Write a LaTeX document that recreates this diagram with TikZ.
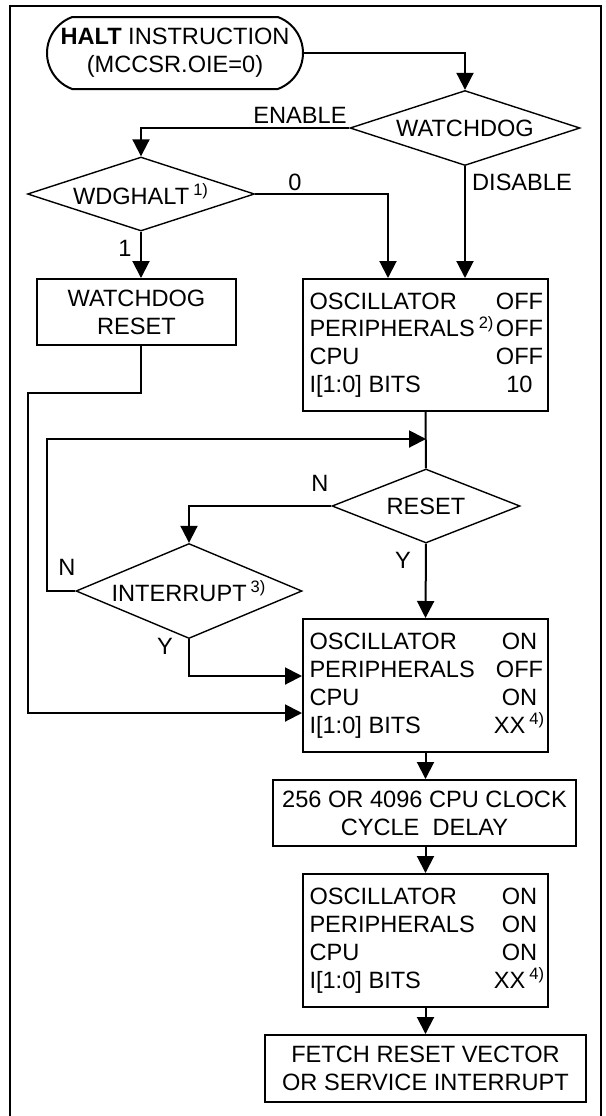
\documentclass[tikz,border=0pt]{standalone}
\usepackage{fontspec}
\setmainfont{Liberation Sans}
\usetikzlibrary{shapes,arrows.meta,positioning}
\newcommand{\strow}[2]{\makebox[94pt][l]{#1}\makebox[22pt]{#2}}

\begin{document}
\begin{tikzpicture}[x=0.5pt,y=-0.5pt,>={Triangle[length=8.5pt,width=8.5pt]}]
\tikzstyle{txt}=[font=\fontsize{11.8}{13.9}\selectfont]
\tikzstyle{box}=[txt, draw, line width=1pt, rectangle, align=center, inner sep=0pt]
\tikzstyle{term}=[box, rounded rectangle, rounded rectangle arc length=140]
\tikzstyle{decision}=[txt, draw, line width=0.7pt, diamond, inner sep=0pt, shape aspect=3]
\tikzstyle{lbl}=[txt, inner sep=0pt]
\tikzstyle{link}=[->, line width=1pt]
\useasboundingbox (0,0) rectangle (606,1116);
\draw[line width=1.3pt] (10,1116) |- (601,6) -- (601,1116);
% steps
\node[term, minimum width=128pt, minimum height=36pt] (start) at (175,53) {\textbf{HALT} INSTRUCTION\\(MCCSR.OIE=0)};
\node[decision, minimum width=115pt, minimum height=37.5pt] (watchdog) at (465,128) {WATCHDOG};
\node[decision, minimum width=113.5pt, minimum height=37pt] (wdghalt) at (141,194) {WDGHALT\kern2pt\textsuperscript{1)}};
\node[box, minimum width=99.5pt, minimum height=33pt] (wdgreset) at (136.5,312) {WATCHDOG\\RESET};
\node[box, align=left, minimum width=122.5pt, minimum height=66pt] (offbox) at (425.5,345)
    {\strow{OSCILLATOR}{OFF}\\ \strow{PERIPHERALS\kern2pt\textsuperscript{2)}}{OFF}\\ \strow{CPU}{OFF}\\ \strow{I[1:0] BITS}{10}};
\node[decision, shape aspect=2.5, minimum width=94pt, minimum height=37pt] (reset) at (426,506) {RESET};
\node[decision, shape aspect=2.4, minimum width=113pt, minimum height=47.5pt] (interrupt) at (189,591) {INTERRUPT\kern2pt\textsuperscript{3)}};
\node[box, align=left, minimum width=122.5pt, minimum height=66.5pt] (onbox) at (425.5,685.5)
    {\strow{OSCILLATOR}{ON}\\ \strow{PERIPHERALS}{OFF}\\ \strow{CPU}{ON}\\ \strow{I[1:0] BITS}{XX\kern2pt\textsuperscript{4)}}};
\node[box, minimum width=151.5pt, minimum height=33pt] (delay) at (424.5,813) {256 OR 4096 CPU CLOCK\\CYCLE\ \ DELAY};
\node[box, align=left, minimum width=122.5pt, minimum height=66.5pt] (allon) at (425.5,940.5)
    {\strow{OSCILLATOR}{ON}\\ \strow{PERIPHERALS}{ON}\\ \strow{CPU}{ON}\\ \strow{I[1:0] BITS}{XX\kern2pt\textsuperscript{4)}}};
\node[box, minimum width=160.5pt, minimum height=33.5pt] (fetch) at (425.5,1068.5) {FETCH RESET VECTOR\\OR SERVICE INTERRUPT};
% branch labels
\node[lbl] (lenable) at (300,115) {ENABLE};
\node[lbl] (lzero) at (295,182) {0};
\node[lbl] (ldisable) at (522,182) {DISABLE};
\node[lbl] (lone) at (125,248) {1};
\node[lbl] (lnreset) at (320,483) {N};
\node[lbl] (lyreset) at (403,560) {Y};
\node[lbl] (lnint) at (67,567) {N};
\node[lbl] (lyint) at (165,646) {Y};
% connectors
\coordinate (rtn) at (28,393);
\coordinate (loop) at (47,439);
\draw[link] (start.east) -| (watchdog.north);
\draw[link] (watchdog.west) -| (wdghalt.north);
\draw[link] (wdghalt.east) -| ([xshift=-18.75pt]offbox.north);
\draw[link] (watchdog.south) -- (watchdog.south |- offbox.north);
\draw[link] (wdghalt.south) -- (wdghalt.south |- wdgreset.north);
\draw[link] (wdghalt.south |- wdgreset.south) |- (rtn) |- ([yshift=-13.75pt]onbox.west);
\draw[line width=1pt] (offbox.south) -- (reset.north);
\draw[link] (interrupt.west) -| (loop) -- (loop -| reset.north);
\draw[link] (reset.west) -| (interrupt.north);
\draw[link] (reset.south) -- (onbox.north);
\draw[link] (interrupt.south) |- ([yshift=4.75pt]onbox.west);
\draw[link] (onbox.south) -- (onbox.south |- delay.north);
\draw[link] (delay.south -| onbox.south) -- (allon.north);
\draw[link] (allon.south) -- (fetch.north);
\end{tikzpicture}
\end{document}
